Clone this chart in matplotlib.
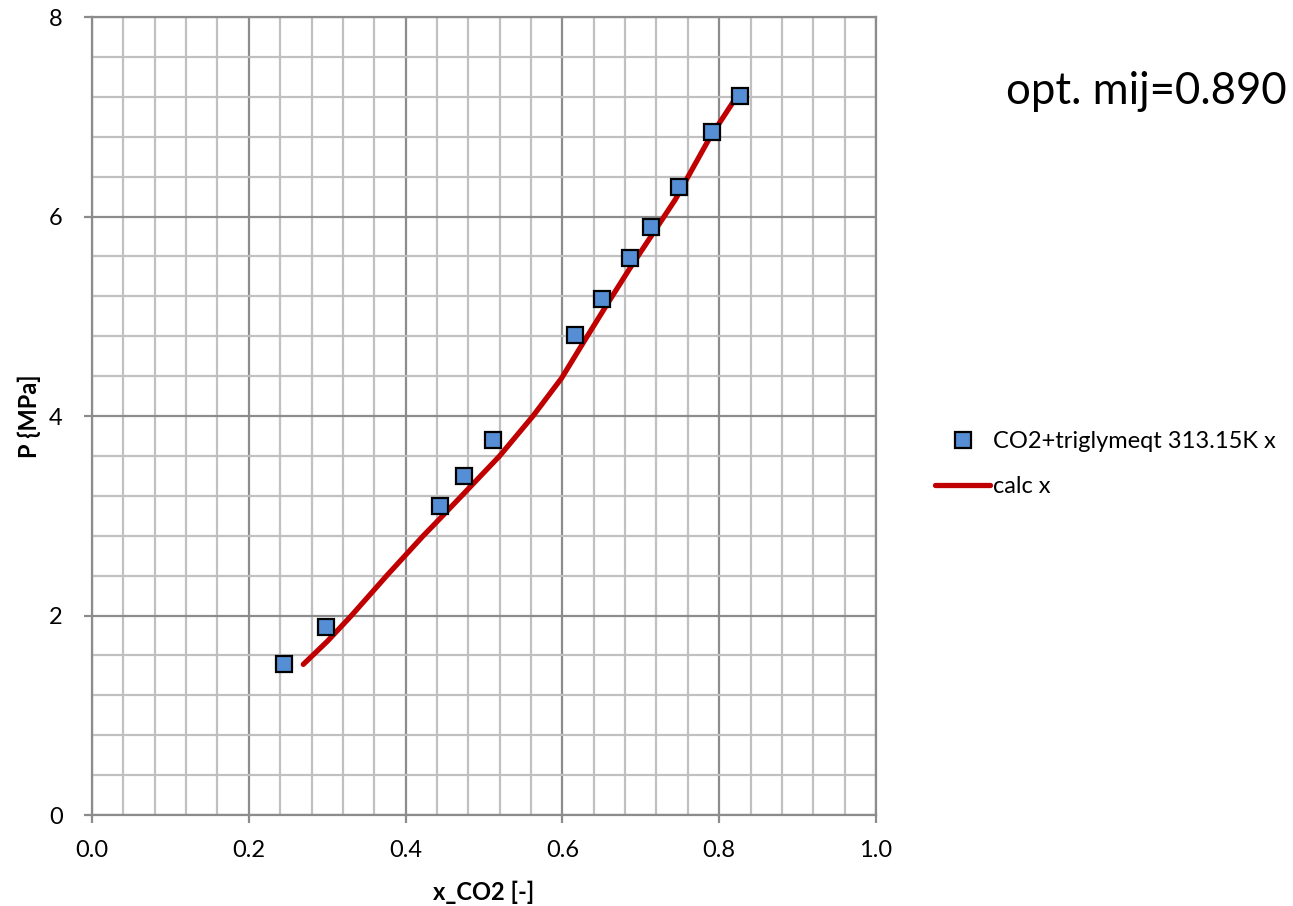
import numpy as np
import matplotlib
matplotlib.use("Agg")
import matplotlib.pyplot as plt
from matplotlib.ticker import MultipleLocator, FormatStrFormatter

plt.rcParams['font.family'] = ['Lato', 'DejaVu Sans']

# ----- Data -----
# measured points, CO2 + triglyme at 313.15 K
x_exp = [0.245, 0.298, 0.444, 0.474, 0.511, 0.616, 0.650, 0.686, 0.713, 0.749, 0.791, 0.827]
p_exp = [1.51, 1.88, 3.10, 3.40, 3.76, 4.81, 5.17, 5.58, 5.89, 6.30, 6.85, 7.21]

# calculated curve
x_calc = [0.2695, 0.300, 0.331, 0.376, 0.4226, 0.4375, 0.474, 0.520, 0.5625,
          0.599, 0.627, 0.657, 0.686, 0.718, 0.744, 0.788, 0.818, 0.829]
p_calc = [1.51, 1.74, 2.00, 2.40, 2.80, 2.92, 3.22, 3.60, 4.00,
          4.38, 4.74, 5.12, 5.48, 5.86, 6.17, 6.79, 7.15, 7.22]

label_exp = "CO2+triglymeqt 313.15K x"
label_calc = "calc x"
note = "opt. mij=0.890"

# ----- Plot -----
fig = plt.figure(figsize=(12.93, 9.06), dpi=100)
ax = fig.add_axes([92/1293, 1 - 815/906, 784/1293, 798/906])

major_c = '#8c8c8c'
minor_c = '#c0c0c0'

ax.set_xlim(0, 1.0)
ax.set_ylim(0, 8)
ax.xaxis.set_major_locator(MultipleLocator(0.2))
ax.xaxis.set_minor_locator(MultipleLocator(0.04))
ax.yaxis.set_major_locator(MultipleLocator(2))
ax.yaxis.set_minor_locator(MultipleLocator(0.4))
ax.xaxis.set_major_formatter(FormatStrFormatter('%.1f'))

ax.grid(which='minor', color=minor_c, lw=1.6, zorder=0)
ax.grid(which='major', color=major_c, lw=1.6, zorder=0)
ax.set_axisbelow(True)
for s in ax.spines.values():
    s.set_color(major_c)
    s.set_linewidth(1.6)
ax.tick_params(which='major', length=6, width=1.6, color=major_c, labelsize=17)
ax.tick_params(axis='x', pad=12)
ax.tick_params(axis='y', pad=15)
ax.tick_params(which='minor', length=0)

ax.plot(x_calc, p_calc, color='#c00000', lw=3.8, solid_capstyle='round',
        solid_joinstyle='round', label=label_calc, zorder=3)
ax.plot(x_exp, p_exp, 's', ms=11.5, mfc='#558ed5', mec='black', mew=1.6,
        label=label_exp, zorder=4)

ax.set_xlabel("x_CO2 [-]", fontsize=17, fontweight='bold', labelpad=14)
ax.set_ylabel("P {MPa]", fontsize=17, fontweight='bold', labelpad=6)

h, l = ax.get_legend_handles_labels()
fig.legend(h[::-1], l[::-1], loc='center left', bbox_to_anchor=(923/1293, 1 - 464/906),
           frameon=False, fontsize=17, handlelength=2.35, handletextpad=0.1,
           labelspacing=1.0, borderpad=0)

fig.text(1006/1293, 1 - 104/906, note, fontsize=31.5, ha='left', va='baseline')

fig.savefig("out.png", dpi=100)
